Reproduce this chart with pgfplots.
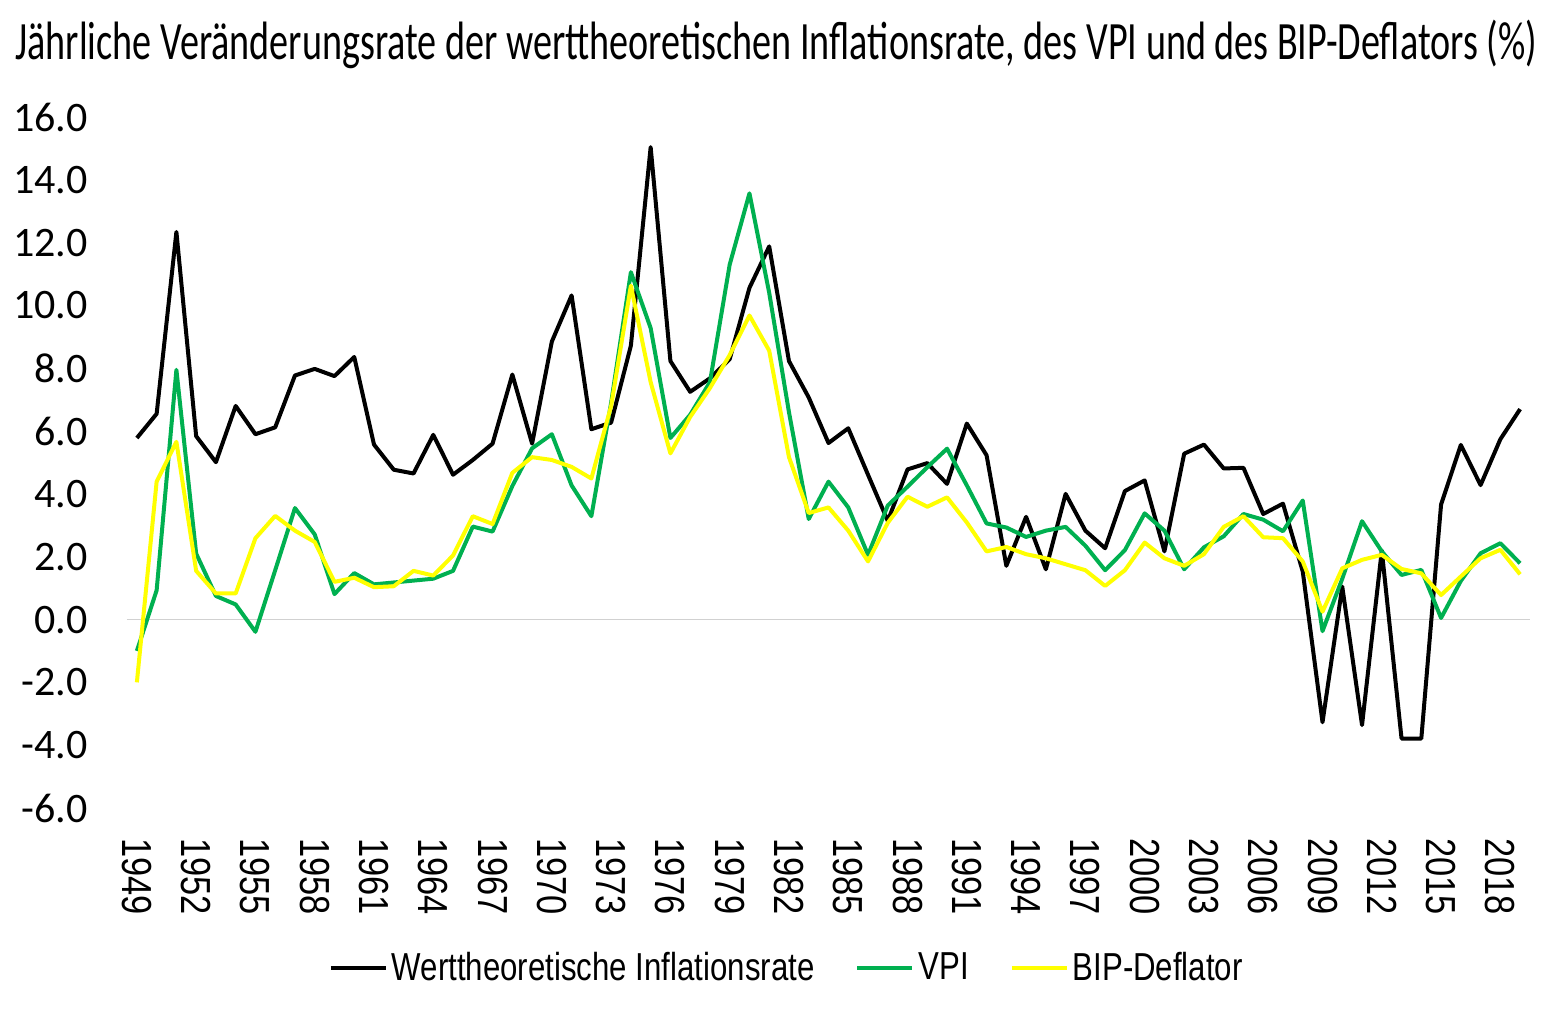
\documentclass[border=0pt]{standalone}
\usepackage{pgfplots}
\pgfplotsset{compat=1.18}
\usepackage{pgfplotstable}
\usepackage{fontspec}
\setmainfont{Liberation Sans}
\newfontfamily\titlefont[FakeStretch=0.706]{Carlito}
\newfontfamily\tickfont{Carlito}
\newfontfamily\narrowfont[FakeStretch=0.82]{Liberation Sans}
\newfontfamily\legfont[FakeStretch=0.80]{Liberation Sans}
\definecolor{vpigreen}{RGB}{0,176,80}
\definecolor{bipyellow}{RGB}{255,255,0}

\pgfplotstableread{
year w vpi bip
1949 5.78 -1.00 -2.00
1950 6.55 0.93 4.39
1951 12.34 7.95 5.66
1952 5.84 2.10 1.55
1953 5.01 0.75 0.83
1954 6.80 0.48 0.83
1955 5.90 -0.39 2.59
1956 6.12 1.57 3.30
1957 7.77 3.55 2.83
1958 7.98 2.71 2.47
1959 7.75 0.81 1.20
1960 8.36 1.48 1.33
1961 5.57 1.12 1.03
1962 4.77 1.18 1.06
1963 4.65 1.24 1.55
1964 5.88 1.30 1.40
1965 4.61 1.55 2.04
1966 5.08 2.96 3.29
1967 5.60 2.80 3.04
1968 7.80 4.25 4.67
1969 5.60 5.45 5.17
1970 8.85 5.90 5.08
1971 10.32 4.27 4.86
1972 6.06 3.29 4.49
1973 6.27 6.90 6.80
1974 8.72 11.06 10.63
1975 15.04 9.28 7.56
1976 8.23 5.78 5.29
1977 7.25 6.52 6.45
1978 7.68 7.56 7.37
1979 8.29 11.30 8.42
1980 10.56 13.57 9.68
1981 11.88 10.40 8.56
1982 8.23 6.60 5.17
1983 7.07 3.20 3.39
1984 5.62 4.39 3.57
1985 6.09 3.57 2.83
1986 4.61 2.06 1.85
1987 3.14 3.63 3.08
1988 4.78 4.23 3.91
1989 4.98 4.85 3.59
1990 4.32 5.44 3.89
1991 6.24 4.27 3.09
1992 5.23 3.06 2.17
1993 1.71 2.93 2.31
1994 3.27 2.63 2.08
1995 1.60 2.83 1.95
1996 4.00 2.95 1.76
1997 2.83 2.35 1.57
1998 2.27 1.57 1.07
1999 4.09 2.21 1.57
2000 4.43 3.38 2.45
2001 2.17 2.83 1.95
2002 5.28 1.60 1.71
2003 5.57 2.30 2.08
2004 4.81 2.65 2.95
2005 4.83 3.36 3.29
2006 3.36 3.18 2.62
2007 3.69 2.81 2.59
2008 1.53 3.79 1.85
2009 -3.27 -0.37 0.25
2010 1.05 1.30 1.63
2011 -3.36 3.13 1.90
2012 2.20 2.17 2.06
2013 -3.79 1.42 1.61
2014 -3.79 1.58 1.47
2015 3.66 0.05 0.78
2016 5.56 1.23 1.37
2017 4.28 2.11 1.95
2018 5.74 2.43 2.22
2019 6.70 1.79 1.44
}\datatable

\begin{document}
\begin{tikzpicture}
\useasboundingbox (0,0) rectangle (777.5pt,506pt);
\node[anchor=base west, inner sep=0pt] at (7.5pt,476pt)
  {\titlefont\fontsize{27pt}{30pt}\selectfont Jährliche Veränderungsrate der werttheoretischen Inflationsrate, des VPI und des BIP-Deflators (\%)};
\begin{axis}[
  at={(63.5pt,102pt)}, anchor=south west,
  scale only axis, width=701.5pt, height=345.5pt,
  xmin=1948.5, xmax=2019.5, ymin=-6, ymax=16,
  axis line style={draw=none},
  major tick length=0pt,
  xtick={1949,1952,...,2018},
  ytick={-6,-4,...,16},
  xticklabel={\pgfmathprintnumber[1000 sep={},assume math mode=true]{\tick}},
  xticklabel style={font=\narrowfont\fontsize{21pt}{21pt}\selectfont, rotate=-90, anchor=west, inner sep=0pt},
  xticklabel shift=15pt,
  yticklabel={\pgfmathprintnumber[fixed,zerofill,precision=1,assume math mode=true]{\tick}},
  yticklabel style={font=\tickfont\fontsize{21pt}{21pt}\selectfont, anchor=east, inner sep=0pt},
  yticklabel shift=19.5pt,
  extra y ticks={0},
  extra y tick labels={},
  extra y tick style={grid=major, major grid style={draw=black!18, line width=0.8pt}},
  legend style={draw=none, fill=none, at={(0.471,-0.2316)}, anchor=center,
    legend columns=-1, font=\legfont\fontsize{19.5pt}{20pt}\selectfont,
    /tikz/every even column/.append style={column sep=18.5pt}},
  legend image code/.code={\draw[#1] (0pt,0pt) -- (27.5pt,0pt);},
]
\addplot[black, line width=2pt, line join=round] table[x=year,y=w]{\datatable};
\addlegendentry{Werttheoretische Inflationsrate}
\addplot[vpigreen, line width=2pt, line join=round] table[x=year,y=vpi]{\datatable};
\addlegendentry{VPI}
\addplot[bipyellow, line width=2pt, line join=round] table[x=year,y=bip]{\datatable};
\addlegendentry{BIP-Deflator}
\end{axis}
\end{tikzpicture}
\end{document}
